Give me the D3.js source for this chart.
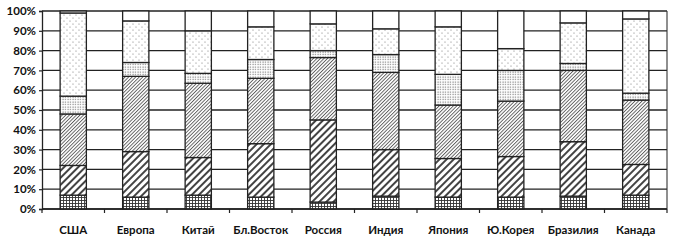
<!DOCTYPE html>
<html>
<head>
<meta charset="utf-8">
<script src="https://cdn.jsdelivr.net/npm/d3@7"></script>
<style>
  body { margin: 0; background: #fff; }
  text { font-family: Lato, 'Liberation Sans', sans-serif; font-weight: 700; fill: #111; }
</style>
</head>
<body>
<svg id="chart" width="682" height="241"></svg>
<script>
// categories
let regions = ['США', 'Европа', 'Китай', 'Бл.Восток', 'Россия', 'Индия', 'Япония', 'Ю.Корея', 'Бразилия', 'Канада']

// segment shares, bottom to top (%)
let seg1 = [7, 6, 7, 6, 3.5, 6.5, 6, 6, 6.5, 7]
let seg2 = [15, 23, 19, 27, 41.5, 23.5, 19.5, 20.5, 27.5, 15.5]
let seg3 = [26, 38, 37.5, 33, 31.5, 39, 27, 28, 36, 32.5]
let seg4 = [9, 7, 5, 9.5, 3.5, 9, 15.5, 15.5, 3.5, 3.5]
let seg5 = [42, 21, 21.5, 16.5, 13.5, 13, 24, 11, 20.5, 37.5]
let seg6 = [1, 5, 10, 8, 6.5, 9, 8, 19, 6, 4]

let yTicks = [0, 10, 20, 30, 40, 50, 60, 70, 80, 90, 100]

let keys = ['s1', 's2', 's3', 's4', 's5', 's6']
let table = regions.map((r, i) => ({
  region: r, s1: seg1[i], s2: seg2[i], s3: seg3[i], s4: seg4[i], s5: seg5[i], s6: seg6[i]
}))

let svg = d3.select('#chart')
let margin = {left: 42, right: 15, top: 11, bottom: 32}
let width = 682 - margin.left - margin.right
let height = 241 - margin.top - margin.bottom

let defs = svg.append('defs')

// crosshatch
let p1 = defs.append('pattern').attr('id', 'p-s1')
  .attr('patternUnits', 'userSpaceOnUse').attr('width', 3).attr('height', 3)
p1.append('rect').attr('width', 3).attr('height', 3).attr('fill', '#fff')
p1.append('path').attr('d', 'M0 0.5H3M0.5 0V3').attr('stroke', '#333').attr('stroke-width', 0.9)

// wide diagonal
let p2 = defs.append('pattern').attr('id', 'p-s2')
  .attr('patternUnits', 'userSpaceOnUse').attr('width', 5).attr('height', 5)
  .attr('patternTransform', 'rotate(45)')
p2.append('rect').attr('width', 5).attr('height', 5).attr('fill', '#fff')
p2.append('line').attr('x1', 1).attr('x2', 1).attr('y1', 0).attr('y2', 5)
  .attr('stroke', '#222').attr('stroke-width', 1.7)

// fine diagonal
let p3 = defs.append('pattern').attr('id', 'p-s3')
  .attr('patternUnits', 'userSpaceOnUse').attr('width', 2.5).attr('height', 2.5)
  .attr('patternTransform', 'rotate(45)')
p3.append('rect').attr('width', 2.5).attr('height', 2.5).attr('fill', '#fff')
p3.append('line').attr('x1', 0.5).attr('x2', 0.5).attr('y1', 0).attr('y2', 2.5)
  .attr('stroke', '#444').attr('stroke-width', 0.8)

// dense dots
let p4 = defs.append('pattern').attr('id', 'p-s4')
  .attr('patternUnits', 'userSpaceOnUse').attr('width', 2.5).attr('height', 2.5)
p4.append('rect').attr('width', 2.5).attr('height', 2.5).attr('fill', '#fff')
p4.append('circle').attr('cx', 1).attr('cy', 1).attr('r', 0.6).attr('fill', '#555')

// sparse dots
let p5 = defs.append('pattern').attr('id', 'p-s5')
  .attr('patternUnits', 'userSpaceOnUse').attr('width', 6).attr('height', 6)
p5.append('rect').attr('width', 6).attr('height', 6).attr('fill', '#fff')
p5.append('circle').attr('cx', 1).attr('cy', 1).attr('r', 0.6).attr('fill', '#777')
p5.append('circle').attr('cx', 4).attr('cy', 4).attr('r', 0.6).attr('fill', '#777')

let g = svg.append('g').attr('transform', `translate(${margin.left},${margin.top})`)

let x = d3.scaleBand().domain(regions).range([0, width]).paddingInner(0.58).paddingOuter(0.29)
let step = x.step()
let y = d3.scaleLinear().domain([0, 100]).range([height, 0])

// gridlines
g.selectAll('.grid')
  .data(yTicks)
  .enter()
  .append('line')
  .attr('x1', 0).attr('x2', width)
  .attr('y1', d => y(d)).attr('y2', d => y(d))
  .attr('stroke', '#222').attr('stroke-width', 1.3)

// right border
g.append('line').attr('x1', width).attr('x2', width).attr('y1', 0).attr('y2', height)
  .attr('stroke', '#333').attr('stroke-width', 1.1)

let series = d3.stack().keys(keys)(table)

g.selectAll('.layer')
  .data(series)
  .enter()
  .append('g')
  .attr('fill', d => d.key === 's6' ? '#fff' : `url(#p-${d.key})`)
  .selectAll('rect')
  .data(d => d)
  .enter()
  .append('rect')
  .attr('x', d => x(d.data.region))
  .attr('width', x.bandwidth())
  .attr('y', d => y(d[1]))
  .attr('height', d => y(d[0]) - y(d[1]))
  .attr('stroke', '#222')
  .attr('stroke-width', 1.3)

// y axis
let yAxis = g.append('g')
  .call(d3.axisLeft(y).tickValues(yTicks).tickFormat(d => d + '%').tickSize(3).tickPadding(3))
yAxis.select('.domain').attr('stroke', '#222').attr('stroke-width', 1.3)
yAxis.selectAll('.tick line').attr('stroke', '#222').attr('stroke-width', 1.2)
yAxis.selectAll('text').attr('font-size', 11.5).attr('fill', '#111')
  .style('font-family', 'Lato, sans-serif').style('font-weight', 700)

// x axis: ticks at band boundaries
let xg = g.append('g').attr('transform', `translate(0,${height})`)
xg.append('line').attr('x1', 0).attr('x2', width).attr('stroke', '#222').attr('stroke-width', 1.3)
xg.selectAll('.xtick')
  .data(d3.range(regions.length + 1))
  .enter()
  .append('line')
  .attr('x1', i => i * step).attr('x2', i => i * step)
  .attr('y1', 0).attr('y2', 4)
  .attr('stroke', '#222').attr('stroke-width', 1.2)
xg.selectAll('.xlabel')
  .data(regions)
  .enter()
  .append('text')
  .attr('x', d => x(d) + x.bandwidth() / 2)
  .attr('y', 25)
  .attr('text-anchor', 'middle')
  .attr('font-size', 11.5)
  .text(d => d)
</script>
</body>
</html>
